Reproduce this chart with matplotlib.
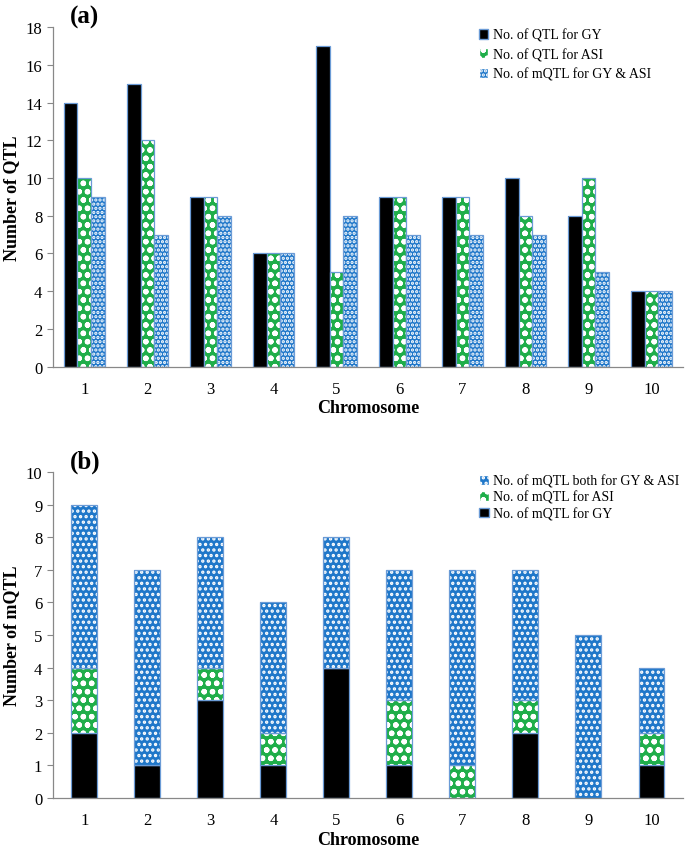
import matplotlib
matplotlib.use("Agg")
import matplotlib.pyplot as plt
import numpy as np
from matplotlib.patches import Patch

plt.rcParams['font.family'] = ['Liberation Serif', 'DejaVu Serif']
plt.rcParams['hatch.linewidth'] = 1.6

chromosomes = ['1', '2', '3', '4', '5', '6', '7', '8', '9', '10']

# Panel (a)
qtl_gy = [14, 15, 9, 6, 17, 9, 9, 10, 8, 4]
qtl_asi = [10, 12, 9, 6, 5, 9, 9, 8, 10, 4]
mqtl_gy_asi = [9, 7, 8, 6, 8, 7, 7, 7, 5, 4]

# Panel (b)
mqtl_gy = [2, 1, 3, 1, 4, 1, 0, 2, 0, 1]
mqtl_asi = [2, 0, 1, 1, 0, 2, 1, 1, 0, 1]
mqtl_both = [5, 6, 4, 4, 4, 4, 6, 4, 5, 2]

BLACK = '#000000'
GREEN = '#1fae4a'
BLUE = '#1f77c9'
EDGE = '#6b9bd6'

fig = plt.figure(figsize=(6.85, 8.53), dpi=100)
ax1 = fig.add_axes([0.077, 0.569, 0.92, 0.398])
ax2 = fig.add_axes([0.077, 0.0633, 0.92, 0.3822])

x = np.arange(1, len(chromosomes) + 1)


def hbar(ax, xs, h, w, color, hatch, bottom=None):
    if hatch:
        ax.bar(xs, h, w, bottom=bottom, color=color, edgecolor='white', hatch=hatch, linewidth=0)
    else:
        ax.bar(xs, h, w, bottom=bottom, color=color, linewidth=0)
    ax.bar(xs, h, w, bottom=bottom, fill=False, edgecolor=EDGE, linewidth=0.9)


def style(ax, ymax, ylabel, tag):
    ax.set_xlim(0.5, len(chromosomes) + 0.5)
    ax.set_ylim(0, ymax)
    ax.set_xticks(x)
    ax.set_xticklabels(chromosomes)
    ax.tick_params(axis='x', length=0, labelsize=12, pad=10)
    ax.tick_params(axis='y', length=4, color='#888888', labelsize=12)
    for s in ['top', 'right']:
        ax.spines[s].set_visible(False)
    for s in ['left', 'bottom']:
        ax.spines[s].set_color('#888888')
        ax.spines[s].set_linewidth(0.9)
    ax.set_xlabel('Chromosome', fontsize=13, fontweight='bold', labelpad=2)
    ax.set_ylabel(ylabel, fontsize=13, fontweight='bold')
    ax.annotate(tag, xy=(0, 1), xycoords='axes fraction', xytext=(17, 11),
                textcoords='offset pixels', fontsize=18, fontweight='bold',
                ha='left', va='center')


w = 0.215
hbar(ax1, x - w, qtl_gy, w, BLACK, None)
hbar(ax1, x, qtl_asi, w, GREEN, 'oo')
hbar(ax1, x + w, mqtl_gy_asi, w, BLUE, '....')
style(ax1, 18, 'Number of QTL', '(a)')
ax1.set_yticks(range(0, 19, 2))
h1 = [Patch(facecolor=BLACK, edgecolor=EDGE),
      Patch(facecolor=GREEN, edgecolor='white', hatch='oo'),
      Patch(facecolor=BLUE, edgecolor='white', hatch='....')]
ax1.legend(h1, ['No. of QTL for GY', 'No. of QTL for ASI', 'No. of mQTL for GY & ASI'],
           loc='upper left', bbox_to_anchor=(0.667, 1.013), frameon=False, fontsize=10,
           handlelength=0.7, handleheight=0.7, handletextpad=0.3, labelspacing=0.45,
           borderaxespad=0)

wb = 0.41
gy = np.array(mqtl_gy)
asi = np.array(mqtl_asi)
hbar(ax2, x, gy, wb, BLACK, None)
hbar(ax2, x, asi, wb, GREEN, 'oo', bottom=gy)
hbar(ax2, x, mqtl_both, wb, BLUE, '...', bottom=gy + asi)
style(ax2, 10, 'Number of mQTL', '(b)')
ax2.set_yticks(range(0, 11))
h2 = [Patch(facecolor=BLUE, edgecolor='white', hatch='...'),
      Patch(facecolor=GREEN, edgecolor='white', hatch='oo'),
      Patch(facecolor=BLACK, edgecolor=EDGE)]
ax2.legend(h2, ['No. of mQTL both for GY & ASI', 'No. of mQTL for ASI', 'No. of mQTL for GY'],
           loc='upper left', bbox_to_anchor=(0.668, 1.01), frameon=False, fontsize=10,
           handlelength=0.7, handleheight=0.7, handletextpad=0.3, labelspacing=0.22,
           borderaxespad=0)

fig.savefig('out.png', dpi=100)
